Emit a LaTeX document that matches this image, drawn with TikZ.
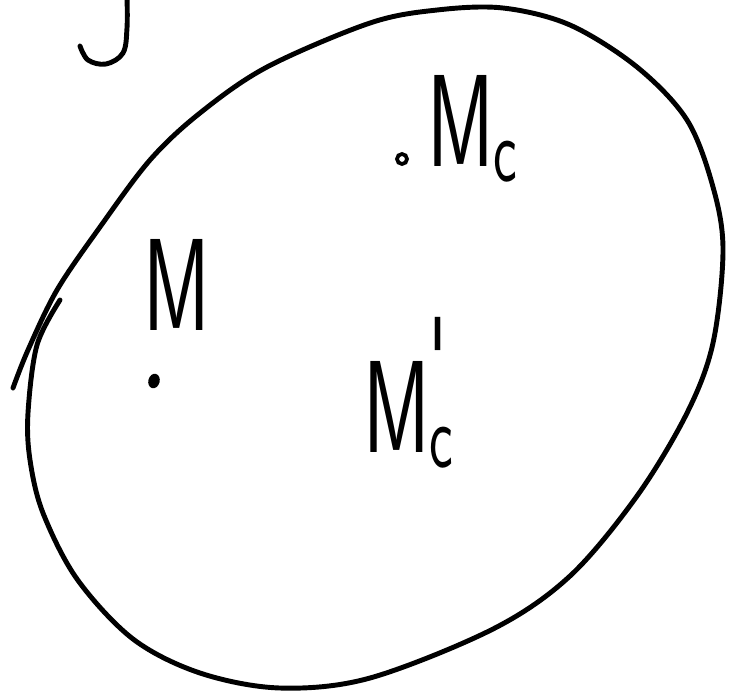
\documentclass[tikz,border=0pt]{standalone}
\usepackage{tikz}
\usetikzlibrary{positioning, shapes.geometric}

\newcommand{\subc}{\raisebox{-0.12em}{\fontsize{78}{78}\selectfont c}}
\newcommand{\subcp}{\raisebox{-0.12em}{\fontsize{78}{78}\selectfont c}\llap{\raisebox{44pt}{\fontsize{100}{100}\selectfont\textquotesingle}\kern0.08em}}

\begin{document}
\begin{tikzpicture}[
  x=0.03cm, y=-0.03cm,
  stroke/.style={line width=4.2pt, line cap=round, line join=round},
  lbl/.style={font=\sffamily\fontsize{112}{112}\selectfont, inner sep=0pt, xscale=0.62, transform shape, anchor=base west}
]
\useasboundingbox (0,0) rectangle (741,692);

% hook of a letter cut off at the top
\draw[stroke] plot[smooth, tension=0.6] coordinates {(127,-3) (127,28) (123,53) (106,64) (88,60) (80,46)};

% the closed curve (starts inside at left, overshoots at the end)
\draw[stroke] plot[smooth, tension=0.55] coordinates {
  (60,300) (37,345) (28,413) (30,460) (43,513) (77,579) (133,639) (200,673)
  (280,688) (370,678) (493,629) (570,576) (637,496) (687,413) (713,343)
  (723,250) (713,187) (687,120) (637,67) (570,25) (503,8) (437,10) (370,23)
  (267,67) (200,113) (150,160) (100,227) (57,290) (28,350) (13,388)};

% points
\node[ellipse, fill, inner sep=0pt, minimum width=0.34cm, minimum height=0.44cm, rotate=-15] (m) at (154,381) {};
\node[circle, draw, line width=3.2pt, inner sep=0pt, minimum size=0.3cm] (mc) at (402,159) {};

% labels
\node[lbl] (lm)  at (143,330) {M};
\node[lbl] (lmc) at (427,166) {M\subc};
\node[lbl] (lmp) at (363,452) {M\subcp};
\end{tikzpicture}
\end{document}
